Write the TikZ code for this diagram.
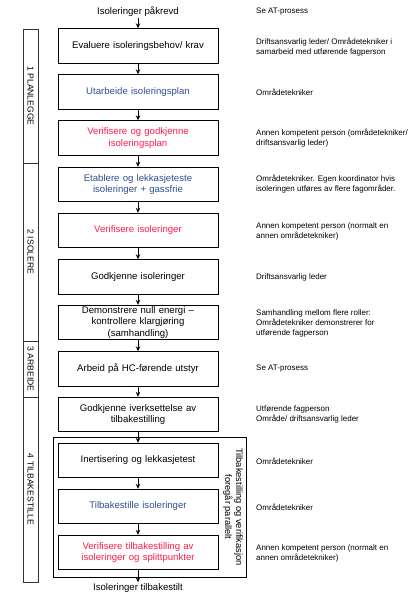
\documentclass[tikz,border=0pt]{standalone}
\usepackage{fontspec}
\setmainfont{Liberation Sans}
\usetikzlibrary{arrows.meta}
\definecolor{tblue}{HTML}{2F4F8F}
\definecolor{tred}{HTML}{FF1A4D}
\begin{document}
\begin{tikzpicture}[x=1pt,y=-1pt,
  stepbox/.style={draw, line width=0.9pt, minimum width=160pt, minimum height=34.5pt, text width=156pt, align=center, inner sep=0pt, font=\fontsize{9.6}{11.5}\selectfont},
  note/.style={anchor=west, align=left, inner sep=0pt, font=\fontsize{8}{10}\selectfont},
  endtext/.style={inner sep=1pt, font=\fontsize{9.6}{11.5}\selectfont},
  flow/.style={-{Stealth[length=5pt,width=4.5pt]}, line width=0.8pt},
  phasebox/.style={draw=black!80, line width=0.9pt, minimum width=15pt, inner sep=0pt},
  phase/.style={font=\fontsize{8.6}{10}\selectfont, rotate=-90}]
\useasboundingbox (0,0) rectangle (411,594);

% phase column
\node[phasebox, minimum height=134pt] (p1) at (30.5,96) {};
\node[phasebox, minimum height=178pt] (p2) at (30.5,252) {};
\node[phasebox, minimum height=56pt] (p3) at (30.5,369) {};
\node[phasebox, minimum height=185pt] (p4) at (30.5,489.5) {};
\node[phase] (l1) at (p1.center) {1 PLANLEGGE};
\node[phase] (l2) at (p2.center) {2 ISOLERE};
\node[phase] (l3) at (p3.center) {3 ARBEIDE};
\node[phase] (l4) at (p4.center) {4 TILBAKESTILLE};

% outer group box
\node[draw, line width=0.9pt, minimum width=193pt, minimum height=140pt, inner sep=0pt] (grp) at (149.5,507) {};
\node[rotate=-90, align=center, inner sep=0pt, font=\fontsize{9.3}{11}\selectfont] (par) at (233,507) {Tilbakestilling og verifikasjon\\foregår parallelt};

% flow
\node[endtext] (start) at (138,12) {Isoleringer påkrevd};
\node[stepbox] (b1) at (138,46) {Evaluere isoleringsbehov/ krav};
\node[stepbox, text=tblue] (b2) at (138,92) {Utarbeide isoleringsplan};
\node[stepbox, text=tred] (b3) at (138,138) {Verifisere og godkjenne\\isoleringsplan};
\node[stepbox, text=tblue] (b4) at (138,184.5) {Etablere og lekkasjeteste\\isoleringer + gassfrie};
\node[stepbox, text=tred] (b5) at (138,230.5) {Verifisere isoleringer};
\node[stepbox] (b6) at (138,277) {Godkjenne isoleringer};
\node[stepbox] (b7) at (138,322.5) {Demonstrere null energi --\\kontrollere klargjøring\\(samhandling)};
\node[stepbox] (b8) at (138,369) {Arbeid på HC-førende utstyr};
\node[stepbox] (b9) at (138,414.5) {Godkjenne iverksettelse av\\tilbakestilling};
\node[stepbox] (b10) at (138,460.5) {Inertisering og lekkasjetest};
\node[stepbox, text=tblue] (b11) at (138,506.5) {Tilbakestille isoleringer};
\node[stepbox, text=tred] (b12) at (138,552.5) {Verifisere tilbakestilling av\\isoleringer og splittpunkter};
\node[endtext] (end) at (138,588) {Isoleringer tilbakestilt};

\draw[flow] (start) -- (b1);
\foreach \a/\b in {b1/b2,b2/b3,b3/b4,b4/b5,b5/b6,b6/b7,b7/b8,b8/b9,b9/b10,b10/b11,b11/b12,b12/end}
  \draw[flow] (\a) -- (\b);

% notes
\node[note] (n0) at (256,12) {Se AT-prosess};
\node[note] (n1) at (256,47) {Driftsansvarlig leder/ Områdetekniker i\\samarbeid med utførende fagperson};
\node[note] (n2) at (256,92) {Områdetekniker};
\node[note] (n3) at (256,138.5) {Annen kompetent person (områdetekniker/\\driftsansvarlig leder)};
\node[note] (n4) at (256,184.5) {Områdetekniker. Egen koordinator hvis\\isoleringen utføres av flere fagområder.};
\node[note] (n5) at (256,231) {Annen kompetent person (normalt en\\annen områdetekniker)};
\node[note] (n6) at (256,277) {Driftsansvarlig leder};
\node[note] (n7) at (256,323) {Samhandling mellom flere roller:\\Områdetekniker demonstrerer for\\utførende fagperson};
\node[note] (n8) at (256,369) {Se AT-prosess};
\node[note] (n9) at (256,414) {Utførende fagperson\\Område/ driftsansvarlig leder};
\node[note] (n10) at (256,461) {Områdetekniker};
\node[note] (n11) at (256,507) {Områdetekniker};
\node[note] (n12) at (256,553) {Annen kompetent person (normalt en\\annen områdetekniker)};
\end{tikzpicture}
\end{document}
